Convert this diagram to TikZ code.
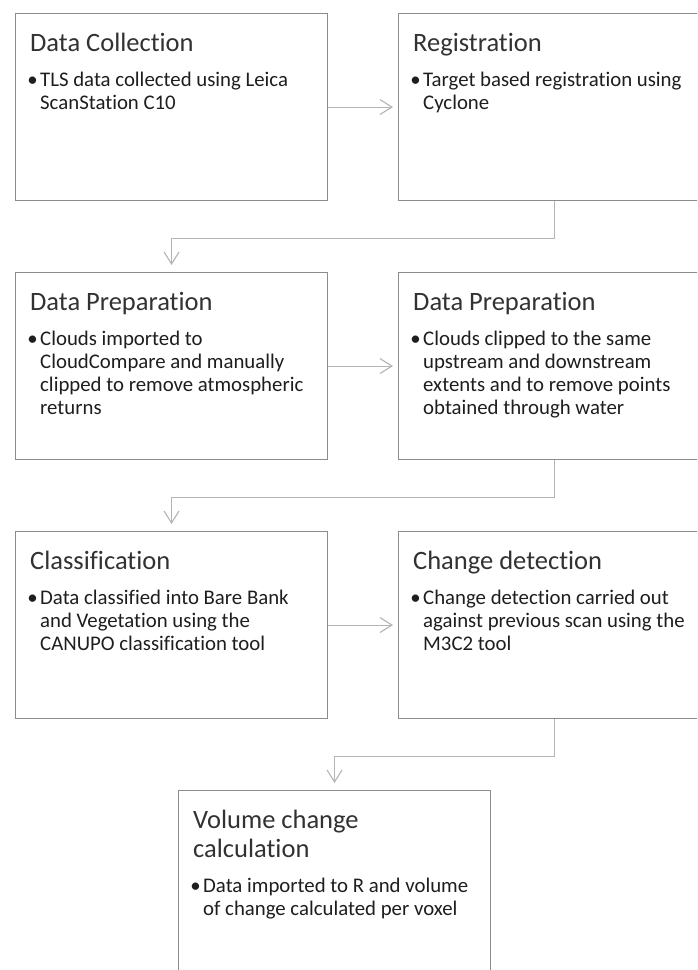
\documentclass[tikz,border=0pt]{standalone}
\usepackage{fontspec}
\setmainfont{Carlito}[Ligatures={NoCommon}]
\usetikzlibrary{arrows.meta,positioning}
\definecolor{boxline}{RGB}{140,140,140}
\definecolor{connline}{RGB}{180,180,180}
\definecolor{titlecol}{RGB}{50,50,50}
\definecolor{textcol}{RGB}{30,30,30}
\newcommand{\blt}{\llap{\textbullet\hskip2.5pt}}
\tikzset{
  stepbox/.style={draw=boxline, line width=1.1pt, rectangle, inner sep=0pt,
    minimum width=312pt, minimum height=187pt, anchor=north west},
  boxtitle/.style={anchor=base west, inner sep=0pt, text=titlecol,
    font=\fontsize{26.5}{29}\selectfont},
  boxtext/.style={anchor=base west, inner sep=0pt, text=textcol,
    font=\fontsize{20.8}{23}\selectfont},
  conn/.style={draw=connline, line width=1.1pt,
    -{Straight Barb[length=12pt,width=15pt,line width=1.1pt]}},
}
\begin{document}
\begin{tikzpicture}[x=1pt,y=1pt]
\useasboundingbox[fill=white] (0,0) rectangle (697,-970);
\begin{scope}
\clip (0,0) rectangle (697,-970);
% boxes
\node[stepbox] (b1) at (15,-13) {};
\node[stepbox] (b2) at (398,-13) {};
\node[stepbox] (b3) at (15,-272) {};
\node[stepbox] (b4) at (398,-272) {};
\node[stepbox] (b5) at (15,-531) {};
\node[stepbox] (b6) at (398,-531) {};
\node[stepbox] (b7) at (178,-790) {};
\end{scope}
% titles
\node[boxtitle] (t1) at ([shift={(15,-38)}]b1.north west) {Data Collection};
\node[boxtitle] (t2) at ([shift={(15,-38)}]b2.north west) {Registration};
\node[boxtitle] (t3) at ([shift={(15,-38)}]b3.north west) {Data Preparation};
\node[boxtitle] (t4) at ([shift={(15,-38)}]b4.north west) {Data Preparation};
\node[boxtitle] (t5) at ([shift={(15,-38)}]b5.north west) {Classification};
\node[boxtitle] (t6) at ([shift={(15,-38)}]b6.north west) {Change detection};
\node[boxtitle] (t7) at ([shift={(15,-38)}]b7.north west) {\vtop{\hbox{Volume change}\hbox{calculation}}};
% bullet texts
\node[boxtext] (d1) at ([shift={(25,-73)}]b1.north west)
  {\vtop{\hbox{\blt TLS data collected using Leica}\hbox{ScanStation C10}}};
\node[boxtext] (d2) at ([shift={(25,-73)}]b2.north west)
  {\vtop{\hbox{\blt Target based registration using}\hbox{Cyclone}}};
\node[boxtext] (d3) at ([shift={(25,-73)}]b3.north west)
  {\vtop{\hbox{\blt Clouds imported to}\hbox{CloudCompare and manually}\hbox{clipped to remove atmospheric}\hbox{returns}}};
\node[boxtext] (d4) at ([shift={(25,-73)}]b4.north west)
  {\vtop{\hbox{\blt Clouds clipped to the same}\hbox{upstream and downstream}\hbox{extents and to remove points}\hbox{obtained through water}}};
\node[boxtext] (d5) at ([shift={(25,-73)}]b5.north west)
  {\vtop{\hbox{\blt Data classified into Bare Bank}\hbox{and Vegetation using the}\hbox{CANUPO classification tool}}};
\node[boxtext] (d6) at ([shift={(25,-73)}]b6.north west)
  {\vtop{\hbox{\blt Change detection carried out}\hbox{against previous scan using the}\hbox{M3C2 tool}}};
\node[boxtext] (d7) at ([shift={(25,-102)}]b7.north west)
  {\vtop{\hbox{\blt Data imported to R and volume}\hbox{of change calculated per voxel}}};
% connectors
\draw[conn, shorten >=5pt] (b1.east) -- (b2.west);
\draw[conn, shorten >=5pt] (b3.east) -- (b4.west);
\draw[conn, shorten >=5pt] (b5.east) -- (b6.west);
\draw[conn, shorten >=7pt] (b2.south) -- ++(0,-37) -| (b3.north);
\draw[conn, shorten >=7pt] (b4.south) -- ++(0,-37) -| (b5.north);
\draw[conn, shorten >=7pt] (b6.south) -- ++(0,-37) -| (b7.north);
\end{tikzpicture}
\end{document}
